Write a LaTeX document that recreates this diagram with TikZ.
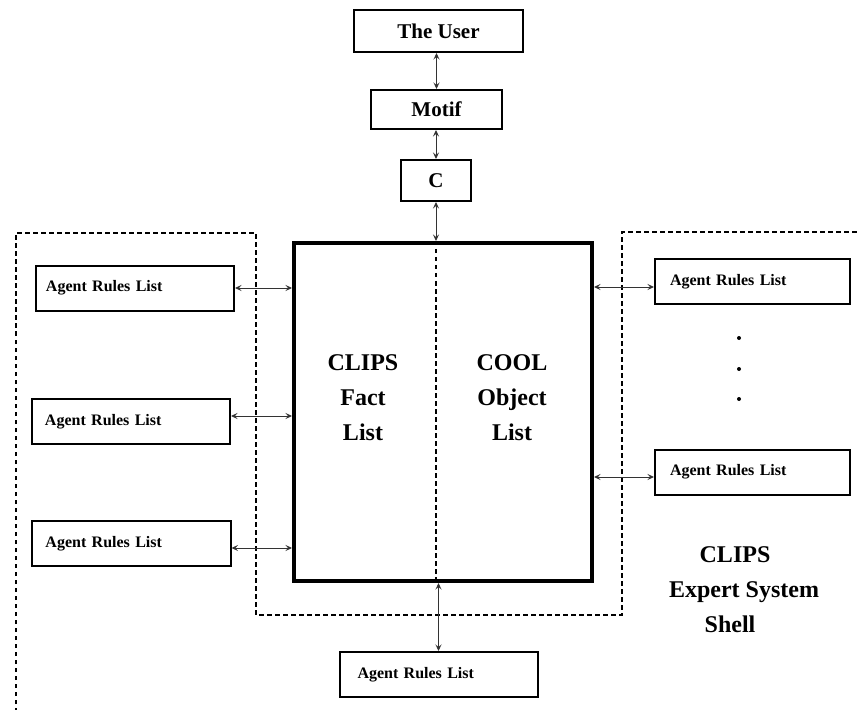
\documentclass[tikz,border=0pt]{standalone}
\usepackage{fontspec}
\setmainfont{Liberation Serif}
\usetikzlibrary{arrows.meta}

\begin{document}
\begin{tikzpicture}[x=1bp, y=-1bp,
  box/.style={draw, line width=2bp, inner sep=0pt, font=\fontsize{21bp}{25bp}\selectfont\bfseries},
  agent/.style={draw, line width=2bp, minimum width=198bp, minimum height=45bp, text width=172bp, inner xsep=13bp, align=left, font=\fontsize{16bp}{19bp}\selectfont\bfseries},
  link/.style={{Stealth[length=6.5bp,width=6bp,inset=2.5bp]}-{Stealth[length=6.5bp,width=6bp,inset=2.5bp]}, line width=1bp, draw=black!80},
  border/.style={line width=2bp, dash pattern=on 4.5bp off 3.5bp},
  bigtext/.style={align=center, font=\fontsize{24bp}{35bp}\selectfont\bfseries}]
  \useasboundingbox (0,0) rectangle (858,710);
  \node[box, minimum width=169bp, minimum height=42bp] (user) at (438.5,31) {The User};
  \node[box, minimum width=131bp, minimum height=39bp] (motif) at (436.5,109.5) {Motif};
  \node[box, minimum width=70bp, minimum height=41bp] (c) at (436,180.5) {C};
  \node[draw, line width=4bp, inner sep=0pt, minimum width=298bp, minimum height=338bp] (lists) at (443,412) {};
  \draw[link] (motif.north) -- (motif.north |- user.south);
  \draw[link] (c.north) -- (c.north |- motif.south);
  \draw[link] (c.south) -- (c.south |- lists.north);
  \draw[border] (c.south |- lists.north) -- (c.south |- lists.south);
  \draw[border] (16,712) -- (16,233) -- (256,233) -- (256,615) -- (622,615) -- (622,232) -- (860,232);
  \node[bigtext] (fact) at (363,398) {CLIPS\\Fact\\List};
  \node[bigtext] (object) at (512,398) {COOL\\Object\\List};
  \node[bigtext] (shell) at (744,590) {CLIPS\hspace*{18bp}\\Expert System\\Shell\hspace*{28bp}};
  \node[agent, inner xsep=10bp, text width=178bp] (l1) at (135,288) {Agent Rules List};
  \node[agent] (l2) at (131,421.5) {Agent Rules List};
  \node[agent] (l3) at (131.5,543.5) {Agent Rules List};
  \node[agent, minimum width=195bp, inner xsep=15bp, text width=165bp] (r1) at (752.5,281.5) {Agent Rules List};
  \node[agent, minimum width=195bp, inner xsep=15bp, text width=165bp] (r2) at (752.5,472) {Agent Rules List};
  \node[agent, inner xsep=18bp, text width=162bp] (ab) at (438.5,674.5) {Agent Rules List};
  \foreach \b/\s in {l1/0,l2/5.5,l3/-4.5}
    \draw[link] ([yshift=\s bp]\b.east) -- ([yshift=\s bp]\b.east -| lists.west);
  \foreach \b/\s in {r1/-5.5,r2/-5}
    \draw[link] ([yshift=\s bp]\b.west) -- ([yshift=\s bp]\b.west -| lists.east);
  \draw[link] (ab.north) -- (ab.north |- lists.south);
  \foreach \y in {338,369,399}
    \fill (739,\y) circle (2bp);
\end{tikzpicture}
\end{document}
